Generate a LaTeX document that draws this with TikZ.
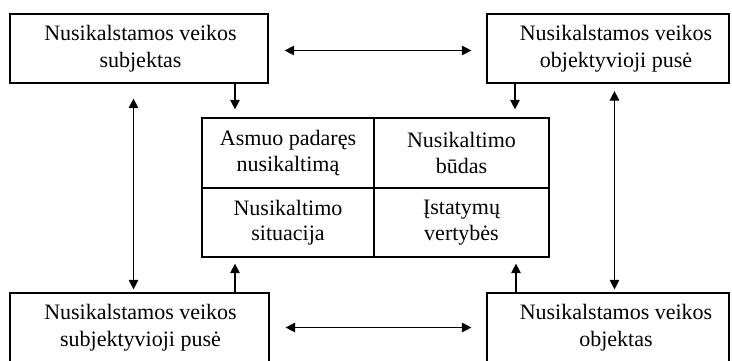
\documentclass[tikz,border=0pt]{standalone}
\usepackage{fontspec}
\setmainfont{Liberation Serif}
\usetikzlibrary{arrows.meta,calc}
\begin{document}
\begin{tikzpicture}[x=1pt,y=-1pt,
  outer/.style={draw=black,line width=1.2pt,minimum height=69pt,inner sep=0pt},
  txt/.style={align=center,inner sep=0pt,font=\fontsize{22pt}{27pt}\selectfont},
  cell/.style={draw=black,line width=1.2pt,inner sep=0pt,align=center,font=\fontsize{22pt}{25.5pt}\selectfont},
  tip/.tip={Triangle[length=9.5pt,width=9.5pt]},
  arr/.style={line width=1.2pt,-tip},
  dbl/.style={line width=1.2pt,tip-tip}]
\clip (0,0) rectangle (732,360);
\fill[white] (0,0) rectangle (732,360);
% outer boxes
\node[outer,minimum width=258pt] (tl) at (139,48.5) {};
\node[outer,minimum width=242pt] (tr) at (608,48.5) {};
\node[outer,minimum width=259pt] (bl) at (139.5,327.5) {};
\node[outer,minimum width=242pt] (br) at (608,327.5) {};
\node[txt] (tlt) at (140.5,49) {Nusikalstamos veikos\\subjektas};
\node[txt] (trt) at (616,49) {Nusikalstamos veikos\\objektyvioji pusė};
\node[txt] (blt) at (140.5,328) {Nusikalstamos veikos\\subjektyvioji pusė};
\node[txt] (brt) at (616,328) {Nusikalstamos veikos\\objektas};
% centre table
\node[cell,minimum width=172pt,minimum height=70pt] (c11) at (288,153) {Asmuo padaręs\\nusikaltimą};
\node[cell,minimum width=175pt,minimum height=70pt] (c12) at (461.5,153) {Nusikaltimo\\būdas};
\node[cell,minimum width=172pt,minimum height=69pt] (c21) at (288,222.5) {Nusikaltimo\\situacija};
\node[cell,minimum width=175pt,minimum height=69pt] (c22) at (461.5,222.5) {Įstatymų\\vertybės};
% arrows to/from the table
\draw[arr,shorten >=8pt] ([xshift=96pt]tl.south) -- ([xshift=96pt]tl.south |- c11.north);
\draw[arr,shorten >=8pt] ([xshift=-93pt]tr.south) -- ([xshift=-93pt]tr.south |- c12.north);
\draw[arr,shorten >=6pt] ([xshift=95.5pt]bl.north) -- ([xshift=95.5pt]bl.north |- c21.south);
\draw[arr,shorten >=6pt] ([xshift=-92pt]br.north) -- ([xshift=-92pt]br.north |- c22.south);
% double arrows between outer boxes
\draw[dbl,shorten <=15pt,shorten >=3pt] ([xshift=-5.5pt]tl.south) -- ([xshift=-5.5pt]tl.south |- bl.north);
\draw[dbl,shorten <=7.5pt,shorten >=3pt] ([xshift=6.5pt]tr.south) -- ([xshift=6.5pt]tr.south |- br.north);
\draw[dbl,shorten <=16pt,shorten >=15pt] ([yshift=-2pt]tl.east) -- ([yshift=-2pt]tl.east -| tr.west);
\draw[dbl,shorten <=16pt,shorten >=15pt] (bl.east) -- (bl.east -| br.west);
\end{tikzpicture}
\end{document}
